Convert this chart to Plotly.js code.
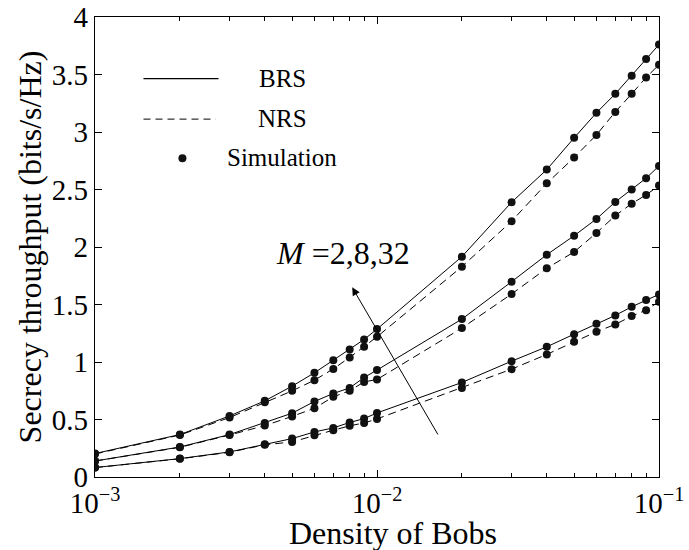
<!DOCTYPE html>
<html>
<head>
<meta charset="utf-8">
<script src="https://cdn.plot.ly/plotly-3.0.1.min.js"></script>
<style>html,body{margin:0;padding:0;background:#fff;}#chart{width:689px;height:550px;}</style>
</head>
<body>
<div id="chart"></div>
<script>
// Density of Bobs
const density = [0.001,0.002,0.003,0.004,0.005,0.006,0.007,0.008,0.009,0.01,0.02,0.03,0.04,0.05,0.06,0.07,0.08,0.09,0.1];
// M = 32
const brsM32 = [0.204,0.369,0.531,0.662,0.790,0.906,1.016,1.109,1.196,1.286,1.916,2.389,2.673,2.949,3.167,3.332,3.489,3.634,3.760];
const nrsM32 = [0.200,0.365,0.517,0.650,0.749,0.842,0.940,1.040,1.132,1.219,1.829,2.224,2.554,2.778,2.975,3.175,3.332,3.474,3.585];
// M = 8
const brsM8 = [0.139,0.261,0.369,0.470,0.555,0.657,0.726,0.775,0.865,0.930,1.373,1.698,1.933,2.098,2.244,2.392,2.499,2.598,2.705];
const nrsM8 = [0.139,0.258,0.365,0.447,0.527,0.598,0.697,0.750,0.827,0.848,1.295,1.591,1.815,1.957,2.122,2.273,2.377,2.453,2.534];
// M = 2
const brsM2 = [0.082,0.160,0.218,0.285,0.334,0.392,0.427,0.474,0.508,0.557,0.822,1.007,1.132,1.242,1.332,1.405,1.480,1.539,1.588];
const nrsM2 = [0.082,0.158,0.215,0.280,0.305,0.363,0.407,0.445,0.470,0.505,0.775,0.938,1.066,1.176,1.263,1.327,1.399,1.451,1.524];

const xTickVals = [0.001,0.01,0.1];
const xTickText = ['10<sup>\u22123</sup>','10<sup>\u22122</sup>','10<sup>\u22121</sup>'];
const xMinorVals = [0.002,0.003,0.004,0.005,0.006,0.007,0.008,0.009,0.02,0.03,0.04,0.05,0.06,0.07,0.08,0.09];
const legendLabels = ['BRS','NRS','Simulation'];
const annotationText = '<i>M</i> =2,8,32';
const xTitle = 'Density of Bobs';
const yTitle = 'Secrecy throughput (bits/s/Hz)';

const FONT = 'Liberation Serif, Times New Roman, serif';

function tr(y, dash){
  return {x: density, y: y, type:'scatter', mode:'lines+markers',
    line:{color:'#000', width:1, dash: dash}, marker:{color:'#111', size:8},
    showlegend:false, hoverinfo:'skip'};
}
const DASH = '8px,5px';
const data = [tr(brsM32,'solid'), tr(nrsM32,DASH), tr(brsM8,'solid'), tr(nrsM8,DASH), tr(brsM2,'solid'), tr(nrsM2,DASH)];

const layout = {
  width:689, height:550,
  margin:{l:95, r:30, t:17, b:73},
  paper_bgcolor:'#fff', plot_bgcolor:'#fff',
  font:{family:FONT, color:'#000'},
  showlegend:false,
  xaxis:{type:'log', range:[-3,-1], tickmode:'array', tickvals:xTickVals, ticktext:xTickText,
    ticks:'inside', ticklen:7, tickwidth:1, tickcolor:'#000',
    minor:{tickmode:'array', tickvals:xMinorVals, ticks:'inside', ticklen:4, tickwidth:1, tickcolor:'#000', showgrid:false},
    showline:true, linecolor:'#000', linewidth:1.2, mirror:'ticks', showgrid:false, zeroline:false,
    tickfont:{size:29, family:FONT}},
  yaxis:{range:[0,4], dtick:0.5, tick0:0, ticks:'inside', ticklen:7, tickwidth:1, tickcolor:'#000',
    showline:true, linecolor:'#000', linewidth:1.2, mirror:'ticks', showgrid:false, zeroline:false,
    tickfont:{size:29, family:FONT},
    title:{text:yTitle, font:{size:32, family:FONT}, standoff:0}},
  shapes:[
    {type:'line', xref:'paper', yref:'paper', x0:0.086, x1:0.219, y0:0.866, y1:0.866, line:{color:'#000', width:1.2}},
    {type:'line', xref:'paper', yref:'paper', x0:0.086, x1:0.214, y0:0.778, y1:0.778, line:{color:'#000', width:1, dash:'7px,5px'}},
    {type:'circle', xref:'paper', yref:'paper', xsizemode:'pixel', ysizemode:'pixel', xanchor:0.155, yanchor:0.693,
      x0:-4, x1:4, y0:-4, y1:4, fillcolor:'#111', line:{color:'#111', width:0}}
  ],
  annotations:[
    {xref:'paper', yref:'paper', x:0.528, y:-0.121, text:xTitle, showarrow:false, xanchor:'center', yanchor:'middle', font:{size:32, family:FONT}},
    {xref:'paper', yref:'paper', x:0.332, y:0.866, text:legendLabels[0], showarrow:false, xanchor:'center', yanchor:'middle', font:{size:25, family:FONT}},
    {xref:'paper', yref:'paper', x:0.332, y:0.780, text:legendLabels[1], showarrow:false, xanchor:'center', yanchor:'middle', font:{size:25, family:FONT}},
    {xref:'paper', yref:'paper', x:0.332, y:0.695, text:legendLabels[2], showarrow:false, xanchor:'center', yanchor:'middle', font:{size:25, family:FONT}},
    {xref:'x', yref:'y', x:-2.1206, y:1.948, text:annotationText, showarrow:false, xanchor:'center', yanchor:'middle', font:{size:32, family:FONT}},
    {xref:'x', yref:'y', x:-2.088, y:1.649, axref:'x', ayref:'y', ax:-1.781, ay:0.357, text:'', showarrow:true,
      arrowhead:2, arrowsize:1.6, arrowwidth:1, arrowcolor:'#000'}
  ]
};
Plotly.newPlot('chart', data, layout, {staticPlot:true, displayModeBar:false});
</script>
</body>
</html>
